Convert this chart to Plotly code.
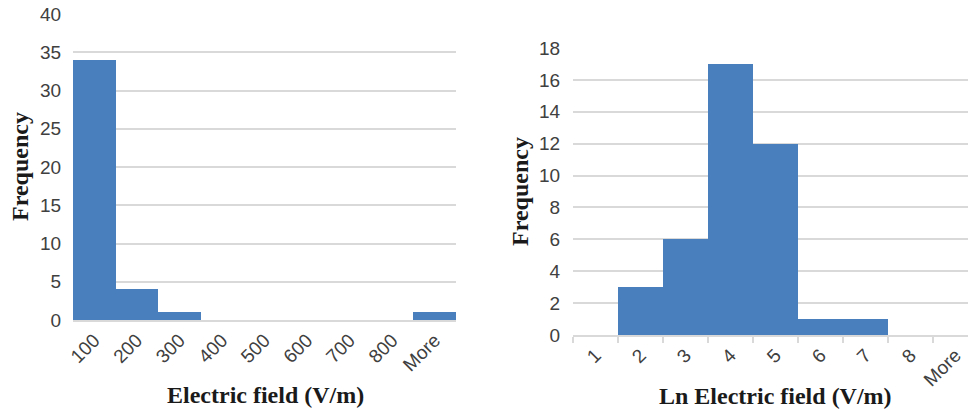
import plotly.graph_objects as go

left_bins = ["100", "200", "300", "400", "500", "600", "700", "800", "More"]
left_freq = [34, 4, 1, 0, 0, 0, 0, 0, 1]

right_bins = ["1", "2", "3", "4", "5", "6", "7", "8", "More"]
right_freq = [0, 3, 6, 17, 12, 1, 1, 0, 0]

left_yticks = [0, 5, 10, 15, 20, 25, 30, 35, 40]
right_yticks = [0, 2, 4, 6, 8, 10, 12, 14, 16, 18]

BAR = "#4a7fbe"
GRID = "#d9d9d9"
TICKFONT = dict(family="Liberation Sans, Arial, sans-serif", size=19, color="#404040")
TITLEFONT = dict(family="Liberation Serif, Times New Roman, serif", size=24, color="#1a1a1a")

W, H = 968, 409

fig = go.Figure()
fig.add_trace(go.Bar(x=left_bins, y=left_freq, marker=dict(color=BAR, line=dict(width=0)),
                     xaxis="x", yaxis="y", showlegend=False))
fig.add_trace(go.Bar(x=right_bins, y=right_freq, marker=dict(color=BAR, line=dict(width=0)),
                     xaxis="x2", yaxis="y2", showlegend=False))

def px_dom(a, b, total):
    return [a / total, b / total]

def py_dom(top, bottom):
    return [1 - bottom / H, 1 - top / H]

fig.update_layout(
    width=W, height=H,
    margin=dict(l=0, r=0, t=0, b=0, autoexpand=False),
    paper_bgcolor="white", plot_bgcolor="white",
    bargap=0,
    xaxis=dict(domain=px_dom(73, 456, W), type="category", range=[-0.5, 8.5], automargin=False,
               showgrid=False, showline=True, linecolor=GRID, linewidth=1.5,
               ticks="", tickangle=-45, tickfont=TICKFONT, anchor="y"),
    yaxis=dict(domain=py_dom(14, 320), range=[0, 40], tickvals=left_yticks, automargin=False,
               showgrid=True, gridcolor=GRID, gridwidth=1.5, zeroline=False,
               showline=False, ticks="outside", ticklen=7, tickcolor="rgba(0,0,0,0)",
               tickfont=TICKFONT, anchor="x"),
    xaxis2=dict(domain=px_dom(573, 968, W), type="category", range=[-0.5, -0.5 + 395 / 45], automargin=False,
                showgrid=False, showline=True, linecolor=GRID, linewidth=1.5,
                ticks="outside", tickson="boundaries", ticklen=6, tickcolor=GRID, tickwidth=1.5,
                tickangle=-45, tickfont=TICKFONT, anchor="y2"),
    yaxis2=dict(domain=py_dom(48, 335), range=[0, 18], tickvals=right_yticks, automargin=False,
                showgrid=True, gridcolor=GRID, gridwidth=1.5, zeroline=False,
                showline=False, ticks="outside", ticklen=8, tickcolor="rgba(0,0,0,0)",
                tickfont=TICKFONT, anchor="x2"),
)

annots = [
    dict(text="<b>Frequency</b>", x=20 / W, y=1 - 167 / H, textangle=-90),
    dict(text="<b>Electric field (V/m)</b>", x=265 / W, y=1 - 395 / H, textangle=0),
    dict(text="<b>Frequency</b>", x=520 / W, y=1 - 192 / H, textangle=-90),
    dict(text="<b>Ln Electric field (V/m)</b>", x=775 / W, y=1 - 396 / H, textangle=0),
]
for a in annots:
    fig.add_annotation(xref="paper", yref="paper", showarrow=False,
                       xanchor="center", yanchor="middle", font=TITLEFONT, **a)

fig.write_html("out.html", config={"displayModeBar": False},
               post_script="document.body.style.margin='0';document.body.style.overflow='hidden';")
